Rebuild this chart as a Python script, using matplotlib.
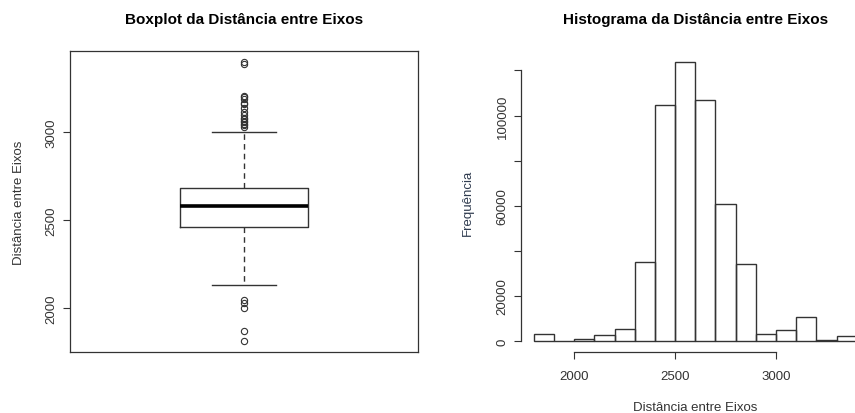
import numpy as np
import matplotlib
matplotlib.use("Agg")
import matplotlib.pyplot as plt

plt.rcParams['font.family'] = ['Liberation Sans', 'DejaVu Sans']

# resumo do boxplot (distância entre eixos, mm)
mediana = 2578
q1 = 2462
q3 = 2686
bigode_inf = 2132
bigode_sup = 3003
outliers = [1812, 1867, 2000, 2030, 2043,
            3032, 3040, 3047, 3058, 3066, 3075, 3085, 3100, 3114,
            3140, 3161, 3168, 3189, 3200, 3208, 3390, 3401]

# histograma: limites das classes e frequências
limites = np.arange(1800, 3401, 100)
frequencias = [2900, 0, 700, 2500, 5300, 35100, 104700, 123700, 107100,
               60600, 34100, 2900, 4900, 10600, 450, 2050]
ticks_y_hist = [0, 20000, 40000, 60000, 80000, 100000, 120000]
rotulos_y_hist = ['0', '20000', '', '60000', '', '100000', '']
ticks_x_hist = [2000, 2500, 3000]

cor = '#333333'
fs_tick = 9.5
fs_tit = 11

fig = plt.figure(figsize=(8.55, 4.14), dpi=100)

# ---------- boxplot ----------
ax1 = fig.add_axes([70/855, 61/414, 348/855, 301/414])
stats = [dict(med=mediana, q1=q1, q3=q3, whislo=bigode_inf, whishi=bigode_sup,
              fliers=outliers)]
ax1.bxp(stats, positions=[1], widths=0.4, capwidths=[0.2],
        boxprops=dict(color=cor, linewidth=1),
        medianprops=dict(color='black', linewidth=2.6),
        whiskerprops=dict(color=cor, linewidth=1, linestyle=(0, (4, 3))),
        capprops=dict(color=cor, linewidth=1),
        flierprops=dict(marker='o', markerfacecolor='none', markeredgecolor=cor,
                        markersize=4.5, markeredgewidth=0.8))
vmin, vmax = min(outliers), max(outliers)
ext = 0.04 * (vmax - vmin)
ax1.set_ylim(vmin - ext, vmax + ext)
ax1.set_xlim(0.46, 1.54)
ax1.set_xticks([])
ax1.set_yticks([2000, 2500, 3000])
ax1.tick_params(axis='y', length=5, width=0.8, color=cor, labelsize=fs_tick,
                labelcolor=cor, pad=4)
for lab in ax1.get_yticklabels():
    lab.set_rotation(90)
    lab.set_va('center')
for s in ax1.spines.values():
    s.set_color(cor)
    s.set_linewidth(0.9)
ax1.text(-0.147, 0.5, 'Distância entre Eixos', rotation=90, ha='center', va='center',
         transform=ax1.transAxes, fontsize=fs_tick, color=cor)
ax1.text(0.5, 1 + 32/301, 'Boxplot da Distância entre Eixos', ha='center', va='center',
         transform=ax1.transAxes, fontsize=fs_tit, fontweight='bold')

# ---------- histograma ----------
ax2 = fig.add_axes([521/855, 61/414, 348.6/855, 301/414])
ax2.bar(limites[:-1], frequencias, width=100, align='edge', fill=False,
        edgecolor=cor, linewidth=1)
fmax = max(frequencias)
ax2.set_ylim(-0.04 * fmax, 1.04 * fmax)
ax2.set_xlim(limites[0] - 0.04 * (limites[-1] - limites[0]),
             limites[-1] + 0.04 * (limites[-1] - limites[0]))
ax2.set_yticks(ticks_y_hist)
ax2.set_yticklabels(rotulos_y_hist)
ax2.set_xticks(ticks_x_hist)
ax2.spines['top'].set_visible(False)
ax2.spines['right'].set_visible(False)
ax2.spines['left'].set_bounds(0, 120000)
ax2.spines['bottom'].set_bounds(2000, 3000)
for s in ('left', 'bottom'):
    ax2.spines[s].set_color(cor)
    ax2.spines[s].set_linewidth(0.9)
ax2.tick_params(length=5, width=0.8, color=cor, labelsize=fs_tick, labelcolor=cor)
ax2.tick_params(axis='x', pad=8)
ax2.tick_params(axis='y', pad=4)
for lab in ax2.get_yticklabels():
    lab.set_rotation(90)
    lab.set_va('center')
ax2.text(-0.153, 0.5, 'Frequência', rotation=90, ha='center', va='center',
         transform=ax2.transAxes, fontsize=fs_tick, color='#2f3b4f')
ax2.text(0.5, -0.183, 'Distância entre Eixos', ha='center', va='center',
         transform=ax2.transAxes, fontsize=fs_tick, color=cor)
ax2.text(0.5, 1 + 32/301, 'Histograma da Distância entre Eixos', ha='center', va='center',
         transform=ax2.transAxes, fontsize=fs_tit, fontweight='bold')

fig.savefig('out.png', dpi=100)
